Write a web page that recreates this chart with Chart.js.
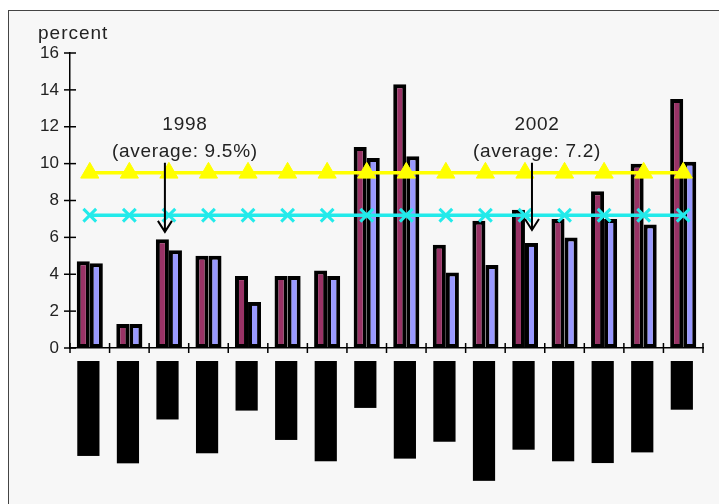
<!DOCTYPE html>
<html>
<head>
<meta charset="utf-8">
<title>percent</title>
<script src="https://cdn.jsdelivr.net/npm/chart.js@4.4.1/dist/chart.umd.min.js"></script>
<style>
    html, body { margin: 0; padding: 0; background: #fff; overflow: hidden; }
    #frame {
        position: absolute; left: 8px; top: 10px;
        width: 740px; height: 520px;
        border: 1px solid #444; background: #f7f7f7;
    }
    canvas { display: block; }
</style>
</head>
<body>
<div id="frame"><canvas id="chart" width="720" height="500"></canvas></div>
<script>
// Category labels (blacked out in the original picture)
const categories = ['Luxembourg', 'Turkmenistan', 'Greece', 'Netherlands', 'Japan', 'Singapore',
    'New Zealand', 'Spain', 'Saudi Arabia', 'Venezuela', 'United Kingdom', 'Switzerland',
    'Liechtenstein', 'United States', 'Montenegro', 'Korea'];

// Values, percent
const values1998 = [4.7, 1.3, 5.9, 5.0, 3.9, 3.9, 4.2, 10.9, 14.3, 5.6, 6.9, 7.5, 7.0, 8.5, 10.0, 13.5];
const values2002 = [4.6, 1.3, 5.3, 5.0, 2.5, 3.9, 3.9, 10.3, 10.4, 4.1, 4.5, 5.7, 6.0, 7.0, 6.7, 10.1];
const average1998 = 9.5;
const average2002 = 7.2;

const yTicks = [0, 2, 4, 6, 8, 10, 12, 14, 16];

const FONT = "'Liberation Sans', Arial, sans-serif";

// Tick marks crossing the axes, titles and the two arrow notes
const notesPlugin = {
    id: 'notes',
    afterDraw(chart) {
        const ctx = chart.ctx;
        const x = chart.scales.x;
        const y = chart.scales.y;
        const axisX = x.left;
        const axisY = y.bottom;

        ctx.save();
        ctx.strokeStyle = '#000';
        ctx.lineWidth = 1.5;

        // y ticks
        yTicks.forEach(function(v) {
            const py = y.getPixelForValue(v);
            ctx.beginPath();
            ctx.moveTo(axisX - 6, py);
            ctx.lineTo(axisX + 6, py);
            ctx.stroke();
        });

        // x ticks at category boundaries
        const step = (x.right - x.left) / categories.length;
        for (let i = 0; i <= categories.length; i++) {
            const px = x.left + i * step;
            ctx.beginPath();
            ctx.moveTo(px, axisY - 5);
            ctx.lineTo(px, axisY + 5);
            ctx.stroke();
        }

        // axis title
        ctx.fillStyle = '#222';
        ctx.font = '19px ' + FONT;
        ctx.letterSpacing = '1px';
        ctx.textAlign = 'left';
        ctx.textBaseline = 'middle';
        ctx.fillText('percent', 29, y.top - 19);

        // notes with arrows
        function note(index, dx, title, sub, arrowDx, arrowTo) {
            const cx = x.getPixelForValue(index);
            ctx.fillStyle = '#222';
            ctx.font = '19px ' + FONT;
            ctx.letterSpacing = '0.7px';
            ctx.textAlign = 'center';
            ctx.fillText(title, cx + dx, y.getPixelForValue(12.1));
            ctx.fillText(sub, cx + dx, y.getPixelForValue(10.65));

            const ax = cx + arrowDx;
            const top = y.getPixelForValue(10.05);
            const tip = y.getPixelForValue(arrowTo);
            ctx.strokeStyle = '#000';
            ctx.lineWidth = 2;
            ctx.beginPath();
            ctx.moveTo(ax, top);
            ctx.lineTo(ax, tip);
            ctx.moveTo(ax - 7, tip - 11);
            ctx.lineTo(ax, tip);
            ctx.lineTo(ax + 7, tip - 11);
            ctx.stroke();
        }
        note(2, 16, '1998', '(average: 9.5%)', -4, 6.3);
        note(11, 12, '2002', '(average: 7.2)', 7, 6.4);

        ctx.restore();
    }
};

new Chart(document.getElementById('chart'), {
    type: 'bar',
    data: {
        labels: categories,
        datasets: [{
            label: '1998',
            data: values1998,
            backgroundColor: '#993366',
            borderColor: '#000',
            borderWidth: 4,
            borderSkipped: false,
            order: 2
        }, {
            label: '2002',
            data: values2002,
            backgroundColor: '#9999ff',
            borderColor: '#000',
            borderWidth: 4,
            borderSkipped: false,
            order: 2
        }, {
            type: 'line',
            label: 'average 1998',
            data: categories.map(() => average1998),
            borderColor: '#ffff00',
            backgroundColor: '#ffff00',
            borderWidth: 3.5,
            pointStyle: 'triangle',
            pointRadius: 10.5,
            pointBorderWidth: 1,
            order: 1
        }, {
            type: 'line',
            label: 'average 2002',
            data: categories.map(() => average2002),
            borderColor: '#22eaea',
            backgroundColor: '#22eaea',
            borderWidth: 3.5,
            pointStyle: 'crossRot',
            pointRadius: 9,
            pointBorderWidth: 3,
            order: 0
        }]
    },
    options: {
        responsive: false,
        animation: false,
        layout: { padding: { left: 0, top: 42, right: 26, bottom: 13 } },
        datasets: {
            bar: { barPercentage: 1.0, categoryPercentage: 0.66 }
        },
        scales: {
            x: {
                grid: { display: false },
                border: { display: true, color: '#000', width: 1.5 },
                ticks: {
                    autoSkip: false,
                    minRotation: 90,
                    maxRotation: 90,
                    padding: 8,
                    labelOffset: -11,
                    color: '#000',
                    font: { family: FONT, size: 16 },
                    showLabelBackdrop: true,
                    backdropColor: '#000',
                    backdropPadding: { top: 1.5, bottom: 1.5, left: 3, right: 3 }
                },
                afterFit: function(scale) { scale.height = 150; }
            },
            y: {
                min: 0,
                max: 16,
                grid: { display: false },
                border: { display: true, color: '#000', width: 1.5 },
                ticks: {
                    stepSize: 2,
                    padding: 3,
                    color: '#222',
                    font: { family: FONT, size: 17 }
                },
                afterFit: function(scale) { scale.width = 61; }
            }
        },
        plugins: {
            legend: { display: false },
            tooltip: { enabled: false }
        }
    },
    plugins: [notesPlugin]
});
</script>
</body>
</html>
